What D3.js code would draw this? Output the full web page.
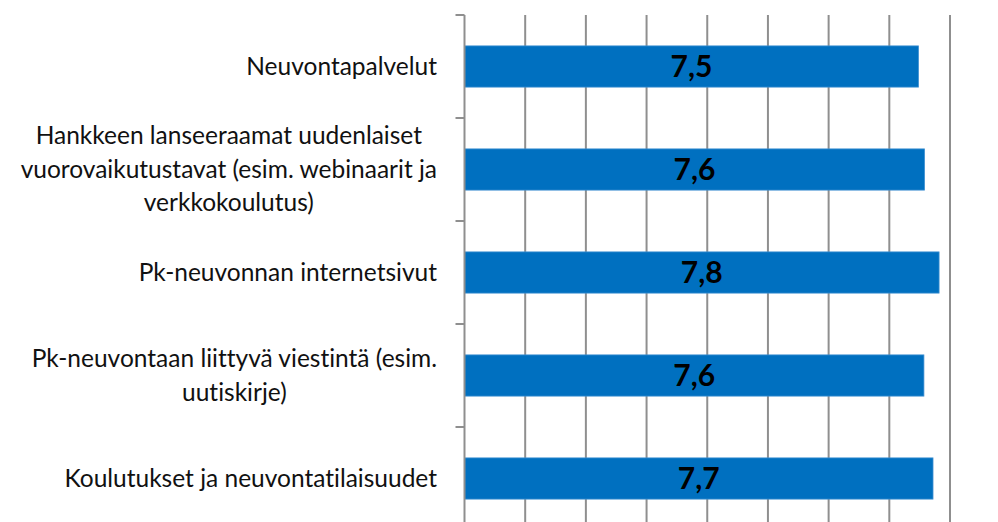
<!DOCTYPE html>
<html>
<head>
<meta charset="utf-8">
<script src="https://cdn.jsdelivr.net/npm/d3@7"></script>
<style>
  html, body { margin: 0; padding: 0; background: #fff; }
  svg { display: block; }
  text { font-variant-ligatures: none; font-feature-settings: "liga" 0; }
</style>
</head>
<body>
<svg id="chart" width="998" height="522"></svg>
<script>
// ---- data ----
const categories = [
  "Neuvontapalvelut",
  "Hankkeen lanseeraamat uudenlaiset vuorovaikutustavat (esim. webinaarit ja verkkokoulutus)",
  "Pk-neuvonnan internetsivut",
  "Pk-neuvontaan liittyvä viestintä (esim. uutiskirje)",
  "Koulutukset ja neuvontatilaisuudet"
];
const values = [7.48, 7.58, 7.82, 7.57, 7.72];
const valueLabels = ["7,5", "7,6", "7,8", "7,6", "7,7"];
const xTicks = [0, 1, 2, 3, 4, 5, 6, 7, 8];

// ---- layout ----
const W = 998, H = 522;
const plot = { left: 464.5, right: 950, top: 15, bottom: 530 };
const svg = d3.select("#chart");

const x = d3.scaleLinear().domain([0, 8]).range([plot.left, plot.right]);
const y = d3.scaleBand().domain(categories).range([plot.top, plot.bottom]).padding(0);
const bw = y.bandwidth();

const gridColor = "#8f8f8f";

// gridlines
svg.append("g").selectAll("line").data(xTicks.slice(1)).join("line")
  .attr("x1", d => x(d)).attr("x2", d => x(d))
  .attr("y1", plot.top).attr("y2", plot.bottom)
  .attr("stroke", gridColor).attr("stroke-width", 2);

// bars
svg.append("g").selectAll("rect").data(categories).join("rect")
  .attr("x", x(0))
  .attr("y", d => y(d) + bw * 0.3)
  .attr("width", (d, i) => x(values[i]) - x(0))
  .attr("height", bw * 0.4)
  .attr("fill", "#0070C0")
  .attr("stroke", "#3d8fd1").attr("stroke-width", 0.8);

// y axis line + ticks at band boundaries
svg.append("line")
  .attr("x1", x(0)).attr("x2", x(0))
  .attr("y1", plot.top).attr("y2", plot.bottom)
  .attr("stroke", gridColor).attr("stroke-width", 2);
const bounds = categories.map(c => y(c)).concat([y(categories[categories.length - 1]) + bw]);
svg.append("g").selectAll("line").data(bounds).join("line")
  .attr("x1", x(0) - 9).attr("x2", x(0))
  .attr("y1", d => d).attr("y2", d => d)
  .attr("stroke", gridColor).attr("stroke-width", 2);

// value labels
svg.append("g").selectAll("text").data(categories).join("text")
  .attr("x", (d, i) => (x(0) + x(values[i])) / 2)
  .attr("y", d => y(d) + bw / 2 + 10.5)
  .attr("text-anchor", "middle")
  .attr("font-family", "Lato, 'Open Sans', sans-serif")
  .attr("font-weight", "bold")
  .attr("font-size", 30)
  .attr("fill", "#000")
  .text((d, i) => valueLabels[i]);

// category labels with wrapping
const fontSize = 24.5;
const lineH = 33.5;
const maxW = 440;
const labelRight = 437;
const g = svg.append("g")
  .attr("font-family", "Lato, 'Open Sans', sans-serif")
  .attr("font-size", fontSize)
  .attr("fill", "#111");

categories.forEach(c => {
  const words = c.split(" ");
  const probe = g.append("text");
  const lines = [];
  let cur = "";
  words.forEach(w => {
    const t = cur ? cur + " " + w : w;
    probe.text(t);
    if (probe.node().getComputedTextLength() > maxW && cur) {
      lines.push(cur); cur = w;
    } else cur = t;
  });
  if (cur) lines.push(cur);
  let blockW = 0;
  lines.forEach(l => { probe.text(l); blockW = Math.max(blockW, probe.node().getComputedTextLength()); });
  probe.remove();
  const cx = labelRight - blockW / 2;
  const cy = y(c) + bw / 2;
  const capH = fontSize * 0.68;
  const firstBase = cy - (lines.length - 1) * lineH / 2 + capH / 2;
  lines.forEach((l, i) => {
    g.append("text")
      .attr("x", cx)
      .attr("y", firstBase + i * lineH)
      .attr("text-anchor", "middle")
      .text(l);
  });
});
</script>
</body>
</html>
